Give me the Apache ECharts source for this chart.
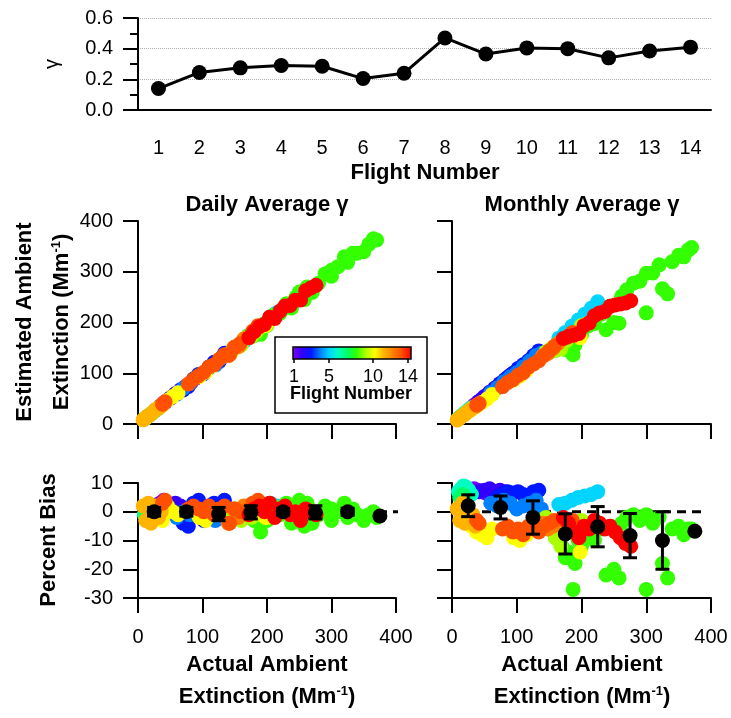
<!DOCTYPE html>
<html>
<head>
<meta charset="utf-8">
<title>Gamma and ambient extinction bias</title>
<script src="https://cdn.jsdelivr.net/npm/echarts@6.0.0/dist/echarts.min.js"></script>
<style>
  html, body { margin: 0; padding: 0; background: #fff; }
  #chart { width: 731px; height: 718px; }
</style>
</head>
<body>
<div id="chart"></div>
<script>
const flights = ['1', '2', '3', '4', '5', '6', '7', '8', '9', '10', '11', '12', '13', '14'];
const gamma = [0.14, 0.245, 0.275, 0.29, 0.285, 0.205, 0.24, 0.47, 0.365, 0.405, 0.40, 0.34, 0.385, 0.41];

// actual ambient extinction (Mm-1), one list per flight
const actualExt = [
  [28, 34, 40, 46, 52, 58],
  [42, 50, 58, 66, 74, 82, 90],
  [70, 78, 86, 94, 102, 110, 118, 126, 134],
  [60, 70, 80, 90, 100, 110, 120, 130, 138],
  [165, 175, 185, 195, 205, 215, 225],
  [10, 14, 18, 22, 26, 30],
  [12, 16, 20],
  [150, 160, 170, 175, 180, 187, 190, 195, 200, 210, 220, 230, 238, 245, 250, 258, 262, 270, 280, 290, 300, 300, 310, 320, 325, 333, 340, 350, 358, 365, 370],
  [145, 152, 160, 168, 176, 184, 192, 200, 208],
  [22, 30, 38, 46, 54, 62, 95, 105, 115, 198],
  [8, 12, 16, 20, 24, 28, 32, 36],
  [140, 148, 156, 164],
  [38, 42, 78, 86, 94, 102, 110, 118, 126, 134, 142, 150, 158, 178, 186],
  [172, 180, 188, 196, 204, 212, 220, 228, 236, 244, 252, 260, 268, 276]
];
// percent bias using the daily average gamma
const dailyBias = [
  [2, 3, 4, 3, 1, 2],
  [1, 2, 3, 2, 0, -1, 1],
  [-4, -5, 3, 4, -3, 2, 3, -2, 4],
  [-2, 0, -1, 1, -2, 0, -3, 1, -1],
  [-1, 1, 2, 0, 3, 2, 1],
  [-1, -2, -1, 0, -1, -2],
  [-1, 0, -1],
  [1, -1, 2, -2, -3, 0, -7, 1, -3, 2, -1, 3, -4, 2, 4, -5, 3, -4, -1, 2, -3, 1, 0, 3, -2, 1, -1, -3, -1, 0, -2],
  [-2, -1, -3, 1, -2, -1, 0, -2, 1],
  [-2, 1, -3, 2, 0, -1, -2, -3, -1, -2],
  [2, -3, 3, -4, 1, 2, -2, 0],
  [-4, 1, -2, 2],
  [3, 4, 1, 2, 1, 0, 2, -1, 1, 2, -4, 1, 0, 3, 4],
  [-1, 1, 2, 0, 3, -2, 1, 2, -1, 0, -3, 1, 0, -1]
];
// percent bias using the monthly average gamma
const monthlyBias = [
  [7, 8, 7.5, 7, 6.5, 6],
  [7, 7.5, 8, 7, 7.5, 7, 6.5],
  [5, 6, 7, 6.5, 7, 6, 5.5, 7, 7.5],
  [3, 2, 4, 3, 1, 2, 3, 4, 1],
  [2.5, 3, 4, 5, 5.5, 6, 7],
  [7, 8, 9, 8.5, 7.5, 6],
  [5, 6, 5],
  [-6, -9, -12, -16, -14, -27, -18, -10, -12, -8, -10, -6, -22, -5, -20, -23, -4, -2, -1, -3, -27, -1, -4, -2, -18, -23, -6, -5, -8, -6, -6],
  [-2, -3, -9, -12, -7, -4, -6, -3, -5],
  [-3, -5, -7, -8, -9, -6, -9, -10, -8, -14],
  [1, -3, 3, -4, 0, -2, -1, -5],
  [-4, -6, -5, -3],
  [-3, -4, -6, -5, -7, -6, -8, -5, -6, -7, -5, -4, -3, -4, -3],
  [-2, -4, -7, -9, -5, -6, -3, -4, -6, -5, -7, -9, -11, -12]
];

// bin averages (black markers) and their spread
const binCenter = [25, 75, 125, 175, 225, 275, 325, 375];
const dailyBinMean = [0, 0, -0.8, -0.2, 0, -0.2, 0, -1.5];
const dailyBinSd = [1.5, 1.5, 2.3, 2.3, 1.2, 2.3, 1.2, 0];
const monthlyBinMean = [2.1, 1.5, -2, -7.7, -5.2, -8.3, -10, -6.8];
const monthlyBinSd = [3.8, 4, 5.8, 7, 7, 7.7, 10, 0];

const flightColors = ['#7700ff', '#3300ff', '#0018ff', '#0080ff', '#00d4ff', '#00ffc0', '#00ff66',
  '#33ff00', '#aaff00', '#ffff00', '#ffb400', '#ff8000', '#ff5000', '#ff0000'];
const colorbarTicks = [1, 5, 10, 14];

const FONT = '"Liberation Sans", Arial, sans-serif';

function buildPoints (biasList, asEstimate) {
  const out = [];
  actualExt.forEach((xs, i) => {
    xs.forEach((x, j) => {
      const b = biasList[i][j];
      out.push([x, asEstimate ? x * (1 + b / 100) : b, i + 1]);
    });
  });
  return out;
}

function binData (mean, sd) {
  return binCenter.map((x, i) => [x, mean[i], sd[i]]);
}

const lineBlack = { color: '#000', width: 2 };

function valueAxis (grid, min, max, interval, showLabel, margin) {
  return {
    type: 'value', gridIndex: grid, min: min, max: max, interval: interval,
    axisLine: { show: true, onZero: false, lineStyle: lineBlack },
    axisTick: { show: true, length: 15, lineStyle: lineBlack },
    axisLabel: { show: showLabel, color: '#000', fontSize: 20, fontFamily: FONT, margin: margin },
    splitLine: { show: false }
  };
}

function errorBarItem (params, api) {
  const x = api.value(0), m = api.value(1), e = api.value(2);
  if (!e) return { type: 'group', children: [] };
  const top = api.coord([x, m + e]);
  const bot = api.coord([x, m - e]);
  const hw = 7;
  const st = { stroke: '#000', lineWidth: 3 };
  return {
    type: 'group',
    children: [
      { type: 'line', shape: { x1: top[0], y1: top[1], x2: bot[0], y2: bot[1] }, style: st },
      { type: 'line', shape: { x1: top[0] - hw, y1: top[1], x2: top[0] + hw, y2: top[1] }, style: st },
      { type: 'line', shape: { x1: bot[0] - hw, y1: bot[1], x2: bot[0] + hw, y2: bot[1] }, style: st }
    ]
  };
}

function label (text, x, y, opts) {
  opts = opts || {};
  const size = opts.size || 22;
  return {
    type: 'text', x: x, y: y, z: 100,
    rotation: opts.rotate ? Math.PI / 2 : 0,
    style: {
      text: text,
      font: (opts.bold === false ? '' : 'bold ') + size + 'px ' + FONT,
      fill: '#000', textAlign: 'center', textVerticalAlign: 'middle',
      rich: {
        a: { fontSize: size, fontWeight: 'bold', fontFamily: FONT, lineHeight: 24 },
        s: { fontSize: 13, fontWeight: 'bold', fontFamily: FONT, verticalAlign: 'top', lineHeight: 13 }
      }
    }
  };
}

const extTitle = '{a|Extinction (Mm}{s|-1}{a|)}';
const solid = { opacity: 1 };

const myChart = echarts.init(document.getElementById('chart'));

const option = {
  animation: false,
  backgroundColor: '#fff',
  grid: [
    { left: 138, top: 18, width: 573, height: 92, outerBoundsMode: 'none' },
    { left: 138, top: 221, width: 258, height: 203, outerBoundsMode: 'none' },
    { left: 452, top: 221, width: 259, height: 203, outerBoundsMode: 'none' },
    { left: 138, top: 483, width: 258, height: 115, outerBoundsMode: 'none' },
    { left: 452, top: 483, width: 259, height: 115, outerBoundsMode: 'none' },
    { left: 294, top: 347, width: 114, height: 12, outerBoundsMode: 'none' }
  ],
  xAxis: [
    {
      type: 'category', gridIndex: 0, data: flights, boundaryGap: true,
      axisLine: { onZero: false, lineStyle: lineBlack },
      axisTick: { alignWithLabel: true, length: 17, lineStyle: lineBlack },
      axisLabel: { color: '#000', fontSize: 20, fontFamily: FONT, margin: 28, interval: 0 }
    },
    valueAxis(1, 0, 400, 100, false, 28),
    valueAxis(2, 0, 400, 100, false, 28),
    valueAxis(3, 0, 400, 100, true, 29),
    valueAxis(4, 0, 400, 100, true, 29),
    {
      type: 'value', gridIndex: 5, min: 1, max: 14,
      axisLine: { show: false },
      axisTick: { show: true, length: 4, customValues: colorbarTicks, lineStyle: { color: '#000', width: 1.5 } },
      axisLabel: { show: true, customValues: colorbarTicks, color: '#000', fontSize: 18, fontFamily: FONT, margin: 9 },
      splitLine: { show: false }
    }
  ],
  yAxis: [
    {
      type: 'value', gridIndex: 0, min: 0, max: 0.6, interval: 0.2,
      axisLine: { show: true, onZero: false, lineStyle: lineBlack },
      axisTick: { show: true, length: 15, lineStyle: lineBlack },
      minorTick: { show: true, splitNumber: 2, length: 8, lineStyle: lineBlack },
      axisLabel: { color: '#000', fontSize: 20, fontFamily: FONT, margin: 25, formatter: v => v.toFixed(1) },
      splitLine: { show: true, lineStyle: { type: 'dotted', color: '#b0b0b0', width: 1 } }
    },
    valueAxis(1, 0, 400, 100, true, 25),
    valueAxis(2, 0, 400, 100, false, 25),
    valueAxis(3, -30, 10, 10, true, 25),
    valueAxis(4, -30, 10, 10, false, 25),
    { type: 'value', gridIndex: 5, min: 0, max: 1, show: false }
  ],
  visualMap: {
    type: 'continuous', min: 1, max: 14, dimension: 2,
    seriesIndex: [3, 4, 5, 6],
    orient: 'horizontal', left: 293, top: 347, itemWidth: 12, itemHeight: 118,
    calculable: false, hoverLink: false, padding: 0,
    inRange: { color: flightColors }
  },
  series: [
    {
      type: 'line', xAxisIndex: 0, yAxisIndex: 0, data: gamma,
      symbol: 'circle', symbolSize: 15,
      itemStyle: { color: '#000', opacity: 1 },
      lineStyle: { color: '#000', width: 3 }
    },
    {
      type: 'line', xAxisIndex: 3, yAxisIndex: 3, data: [[0, 0], [487, 0]],
      clip: false, symbol: 'none', silent: true, z: 1,
      lineStyle: { color: '#000', width: 3, type: [9, 6] }
    },
    {
      type: 'line', xAxisIndex: 4, yAxisIndex: 4, data: [[0, 0], [390, 0]],
      clip: false, symbol: 'none', silent: true, z: 1,
      lineStyle: { color: '#000', width: 3, type: [9, 6] }
    },
    { type: 'scatter', xAxisIndex: 1, yAxisIndex: 1, data: buildPoints(dailyBias, true), symbolSize: 15, itemStyle: solid, z: 2 },
    { type: 'scatter', xAxisIndex: 2, yAxisIndex: 2, data: buildPoints(monthlyBias, true), symbolSize: 15, itemStyle: solid, z: 2 },
    { type: 'scatter', xAxisIndex: 3, yAxisIndex: 3, data: buildPoints(dailyBias, false), symbolSize: 15, itemStyle: solid, z: 2 },
    { type: 'scatter', xAxisIndex: 4, yAxisIndex: 4, data: buildPoints(monthlyBias, false), symbolSize: 15, itemStyle: solid, z: 2 },
    {
      type: 'custom', xAxisIndex: 3, yAxisIndex: 3, data: binData(dailyBinMean, dailyBinSd),
      renderItem: errorBarItem, encode: { x: 0, y: 1 }, z: 5
    },
    {
      type: 'custom', xAxisIndex: 4, yAxisIndex: 4, data: binData(monthlyBinMean, monthlyBinSd),
      renderItem: errorBarItem, encode: { x: 0, y: 1 }, z: 5
    },
    {
      type: 'scatter', xAxisIndex: 3, yAxisIndex: 3, data: binData(dailyBinMean, dailyBinSd),
      symbolSize: 15, itemStyle: { color: '#000', opacity: 1 }, z: 6
    },
    {
      type: 'scatter', xAxisIndex: 4, yAxisIndex: 4, data: binData(monthlyBinMean, monthlyBinSd),
      symbolSize: 15, itemStyle: { color: '#000', opacity: 1 }, z: 6
    }
  ],
  graphic: [
    label('γ', 52, 64, { rotate: true, bold: false, size: 20 }),
    label('Flight Number', 425, 173),
    label('Daily Average γ', 267, 205),
    label('Monthly Average γ', 582, 205),
    label('Estimated Ambient', 25, 322, { rotate: true }),
    label(extTitle, 62, 322, { rotate: true }),
    label('Percent Bias', 49, 540, { rotate: true }),
    label('Actual Ambient', 267, 665),
    label(extTitle, 267, 697),
    label('Actual Ambient', 582, 665),
    label(extTitle, 582, 697),
    {
      type: 'rect', z: 90, shape: { x: 275, y: 337, width: 152, height: 76 },
      style: { fill: 'none', stroke: '#000', lineWidth: 1.5 }
    },
    {
      type: 'rect', z: 100, shape: { x: 293, y: 347, width: 118, height: 12 },
      style: { fill: 'none', stroke: '#000', lineWidth: 1.5 }
    },
    label('Flight Number', 351, 394, { size: 18 })
  ]
};

myChart.setOption(option, true);
</script>
</body>
</html>
